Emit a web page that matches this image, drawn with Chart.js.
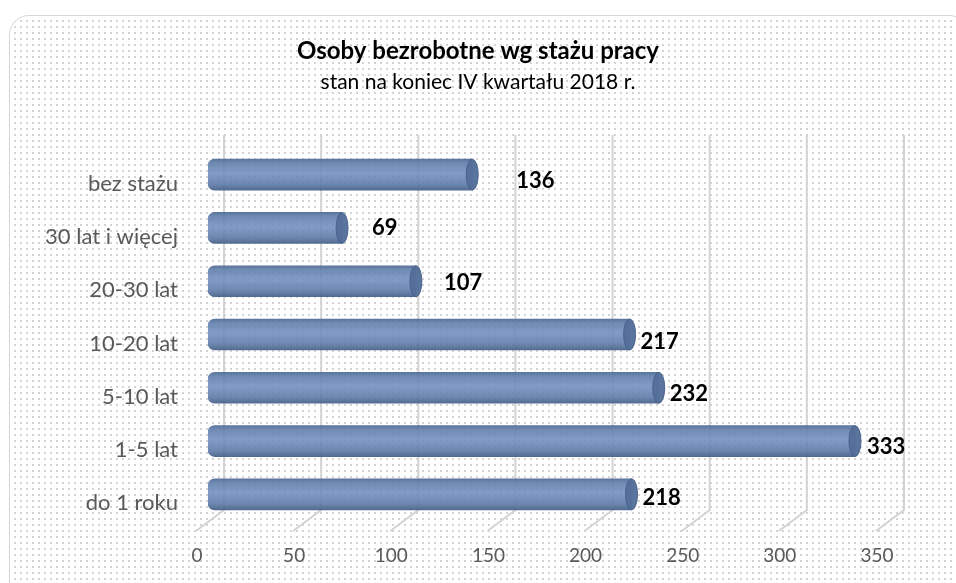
<!DOCTYPE html>
<html>
<head>
<meta charset="utf-8">
<script src="https://cdn.jsdelivr.net/npm/chart.js@4/dist/chart.umd.min.js"></script>
<style>
  html, body { margin: 0; padding: 0; background: #ffffff; }
  #wrap { position: relative; width: 956px; height: 583px; overflow: hidden; background: #ffffff; }
  #frame {
    position: absolute; left: 9px; top: 15px; width: 960px; height: 600px;
    border: 1px solid #d6d6d6; border-radius: 20px; box-sizing: border-box;
    background-color: #ffffff;
    background-image: radial-gradient(circle, #d3d3d3 0.9px, rgba(255,255,255,0) 1.2px);
    background-size: 6px 6px;
    background-position: 2px 2px;
  }
  #c { position: absolute; left: 0; top: 0; }
</style>
</head>
<body>
<div id="wrap">
  <div id="frame"></div>
  <canvas id="c" width="956" height="583"></canvas>
</div>
<script>
// ---- data ----
const categories = ["bez stażu", "30 lat i więcej", "20-30 lat", "10-20 lat", "5-10 lat", "1-5 lat", "do 1 roku"];
const values = [136, 69, 107, 217, 232, 333, 218];
const xTicks = [0, 50, 100, 150, 200, 250, 300, 350];
const titleText = "Osoby bezrobotne wg stażu pracy";
const subtitleText = "stan na koniec IV kwartału 2018 r.";

// ---- styling (label nudges as in the original, in px) ----
const labelNudgeX = [34, 20, 18, 1, 1, 2, 1];
const labelNudgeY = [6, 0, 2, 7, 6, 6, 4];

const FONT = "Lato, 'Noto Sans', sans-serif";
const DEPTH_BACK_X = 16, DEPTH_BACK_Y = -13, DEPTH_FRONT_X = -12, DEPTH_FRONT_Y = 10;

const backGrid = {
  id: 'backGrid',
  beforeDatasetsDraw(chart) {
    const {ctx, chartArea, scales} = chart;
    const xs = scales.x;
    ctx.save();
    ctx.strokeStyle = '#d3d3d3';
    ctx.lineWidth = 2;
    const topY = chartArea.top + DEPTH_BACK_Y;
    const botY = chartArea.bottom - 11;
    const frontY = chartArea.bottom + DEPTH_FRONT_Y;
    xTicks.forEach(v => {
      const px = xs.getPixelForValue(v);
      ctx.beginPath();
      ctx.moveTo(px + DEPTH_BACK_X, topY);
      ctx.lineTo(px + DEPTH_BACK_X, botY);
      ctx.lineTo(px + DEPTH_FRONT_X, frontY);
      ctx.stroke();
    });
    ctx.restore();
  }
};

const cylinder = {
  id: 'cylinder',
  afterDatasetsDraw(chart) {
    const {ctx} = chart;
    const meta = chart.getDatasetMeta(0);
    ctx.save();
    meta.data.forEach((bar, i) => {
      const h = bar.height;
      const rx = 6, ry = h / 2;
      // end cap
      ctx.beginPath();
      ctx.ellipse(bar.x, bar.y, rx, ry, 0, 0, Math.PI * 2);
      ctx.fillStyle = 'rgba(84,112,154,0.97)';
      ctx.fill();
      ctx.strokeStyle = 'rgba(70,95,135,0.9)';
      ctx.lineWidth = 1;
      ctx.stroke();
      // value label
      ctx.font = "bold 22px " + FONT;
      ctx.fillStyle = '#000000';
      ctx.textAlign = 'left';
      ctx.textBaseline = 'middle';
      ctx.fillText(String(values[i]), bar.x + rx + 4 + labelNudgeX[i], bar.y + labelNudgeY[i]);
    });
    ctx.restore();
  }
};

function barGradient(context) {
  const chart = context.chart;
  const ys = chart.scales && chart.scales.y;
  if (!chart.chartArea || !ys) return '#6a8cbc';
  const y = ys.getPixelForValue(context.dataIndex);
  const h = 31;
  if (!isFinite(y)) return '#6a8cbc';
  const g = chart.ctx.createLinearGradient(0, y - h / 2, 0, y + h / 2);
  g.addColorStop(0, 'rgba(78,106,148,0.93)');
  g.addColorStop(0.12, 'rgba(96,126,170,0.9)');
  g.addColorStop(0.45, 'rgba(112,144,190,0.88)');
  g.addColorStop(0.8, 'rgba(94,124,168,0.9)');
  g.addColorStop(1, 'rgba(72,98,138,0.94)');
  return g;
}

new Chart(document.getElementById('c'), {
  type: 'bar',
  data: {
    labels: categories,
    datasets: [{
      data: values,
      backgroundColor: barGradient,
      borderWidth: 0,
      borderSkipped: false,
      borderRadius: {topLeft: 7, bottomLeft: 7, topRight: 0, bottomRight: 0},
      barThickness: 31
    }]
  },
  options: {
    indexAxis: 'y',
    responsive: false,
    animation: false,
    events: [],
    layout: { padding: 0 },
    plugins: {
      legend: { display: false },
      tooltip: { enabled: false },
      title: {
        display: true,
        text: titleText,
        color: '#000000',
        font: { family: FONT, size: 24, weight: 'bold', lineHeight: 1.2 },
        padding: { top: 37, bottom: 4 }
      },
      subtitle: {
        display: true,
        text: subtitleText,
        color: '#000000',
        font: { family: FONT, size: 21, weight: 'normal', lineHeight: 1.2 },
        padding: { top: 0, bottom: 53 }
      }
    },
    scales: {
      x: {
        type: 'linear',
        min: 0,
        max: 350,
        afterBuildTicks(scale) { scale.ticks = xTicks.map(v => ({value: v})); },
        afterFit(scale) { scale.height = 62; },
        grid: { display: false },
        border: { display: false },
        ticks: {
          color: '#595959',
          font: { family: FONT, size: 19 },
          padding: 15,
          labelOffset: -11
        }
      },
      y: {
        afterFit(scale) { scale.width = 208; },
        grid: { display: false },
        border: { display: false },
        ticks: {
          color: '#595959',
          font: { family: FONT, size: 22 },
          padding: 22,
          labelOffset: 9
        }
      },
      yRight: {
        type: 'category',
        position: 'right',
        labels: categories,
        afterFit(scale) { scale.width = 68; },
        grid: { display: false },
        border: { display: false },
        ticks: { display: false }
      }
    }
  },
  plugins: [backGrid, cylinder]
});
</script>
</body>
</html>
